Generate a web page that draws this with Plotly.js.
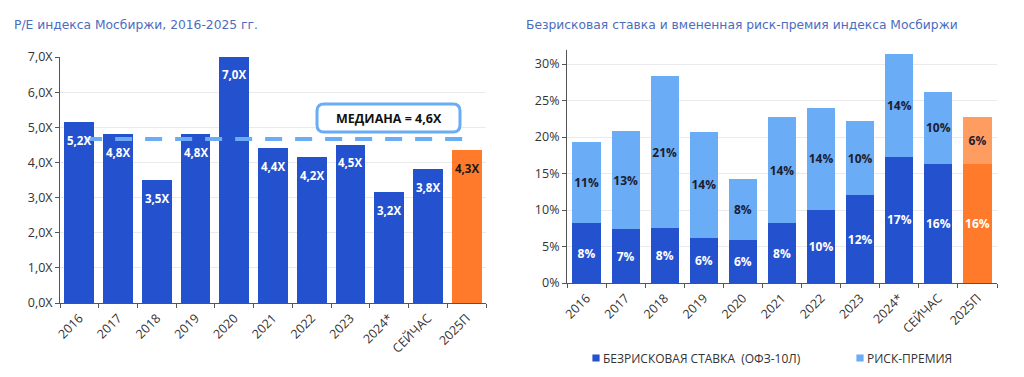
<!DOCTYPE html>
<html><head><meta charset="utf-8">
<script src="https://cdn.plot.ly/plotly-3.0.1.min.js"></script>
<style>html,body{margin:0;padding:0;background:#fff}#chart{width:1024px;height:377px}</style>
</head><body><div id="chart"></div>
<script>
const categories = ['2016','2017','2018','2019','2020','2021','2022','2023','2024*','СЕЙЧАС','2025П'];
const peValues = [5.15, 4.8, 3.5, 4.8, 7.0, 4.4, 4.15, 4.5, 3.15, 3.8, 4.35];
const peLabels = ['5,2X','4,8X','3,5X','4,8X','7,0X','4,4X','4,2X','4,5X','3,2X','3,8X','4,3X'];
const peMedian = 4.67;
const medianLabel = 'МЕДИАНА = 4,6X';
const riskFree = [8.2, 7.4, 7.5, 6.2, 5.9, 8.2, 10.0, 12.0, 17.3, 16.3, 16.3];
const riskFreeLabels = ['8%','7%','8%','6%','6%','8%','10%','12%','17%','16%','16%'];
const riskPremium = [11.1, 13.4, 20.9, 14.5, 8.3, 14.5, 14.0, 10.2, 14.1, 9.9, 6.4];
const riskPremiumLabels = ['11%','13%','21%','14%','8%','14%','14%','10%','14%','10%','6%'];
const peYTicks = [0,1,2,3,4,5,6,7];
const peYTickText = ['0,0X','1,0X','2,0X','3,0X','4,0X','5,0X','6,0X','7,0X'];
const rateYTicks = [0,5,10,15,20,25,30];
const rateYTickText = ['0%','5%','10%','15%','20%','25%','30%'];
const titleLeft = 'P/E индекса Мосбиржи, 2016-2025 гг.';
const titleRight = 'Безрисковая ставка и вмененная риск-премия индекса Мосбиржи';
const legendRiskFree = 'БЕЗРИСКОВАЯ СТАВКА  (ОФЗ-10Л)';
const legendPremium = 'РИСК-ПРЕМИЯ';

const W = 1024, H = 377;
const DARK = '#2452CE', LIGHT = '#6AACF5', ORANGE = '#FF7A2A', LORANGE = '#FF9C60';
const last = categories.length - 1;
const FONT = 'Open Sans, sans-serif';
const WIDE = 'DejaVu Sans, sans-serif';

const peColors = categories.map((c,i) => i === last ? ORANGE : DARK);
const rfColors = categories.map((c,i) => i === last ? ORANGE : DARK);
const rpColors = categories.map((c,i) => i === last ? LORANGE : LIGHT);

const traces = [
  {type:'bar', x:categories, y:peValues, xaxis:'x', yaxis:'y', width:0.77,
   marker:{color:peColors}, showlegend:false, hoverinfo:'skip'},
  {type:'bar', name:legendRiskFree, legend:'legend', x:categories, y:riskFree, xaxis:'x2', yaxis:'y2', width:0.72,
   marker:{color:rfColors}, text:riskFreeLabels.map(t=>'<b>'+t+'</b>'), textposition:'inside',
   insidetextanchor:'middle', constraintext:'none', textangle:0,
   textfont:{color:'#ffffff', size:12, family:FONT}, hoverinfo:'skip'},
  {type:'bar', name:legendPremium, legend:'legend2', x:categories, y:riskPremium, xaxis:'x2', yaxis:'y2', width:0.72,
   marker:{color:rpColors}, text:riskPremiumLabels.map(t=>'<b>'+t+'</b>'), textposition:'inside',
   insidetextanchor:'middle', constraintext:'none', textangle:0,
   textfont:{color:'#1b1d33', size:12, family:FONT}, hoverinfo:'skip'}
];

const px = v => v / W, py = v => 1 - v / H;

function roundedRect(x0, y0, x1, y1, r) {
  const P = (x,y) => px(x) + ',' + py(y);
  return 'M' + P(x0+r,y0) + ' L' + P(x1-r,y0) + ' Q' + P(x1,y0) + ' ' + P(x1,y0+r) +
    ' L' + P(x1,y1-r) + ' Q' + P(x1,y1) + ' ' + P(x1-r,y1) +
    ' L' + P(x0+r,y1) + ' Q' + P(x0,y1) + ' ' + P(x0,y1-r) +
    ' L' + P(x0,y0+r) + ' Q' + P(x0,y0) + ' ' + P(x0+r,y0) + ' Z';
}

const axisCommon = {
  showline:true, linecolor:'#555', linewidth:1, ticks:'outside', tickcolor:'#555', ticklen:4,
  tickfont:{size:12.5, color:'#333', family:FONT}, zeroline:false, fixedrange:true
};

const annotations = [
  {xref:'paper', yref:'paper', x:px(12), y:py(25), xanchor:'left', yanchor:'middle', showarrow:false,
   text:titleLeft, font:{size:12.3, color:'#4C6DBE', family:WIDE}},
  {xref:'paper', yref:'paper', x:px(524), y:py(25), xanchor:'left', yanchor:'middle', showarrow:false,
   text:titleRight, font:{size:12.3, color:'#4C6DBE', family:WIDE}},
  {xref:'paper', yref:'paper', x:px(388.5), y:py(118), xanchor:'center', yanchor:'middle', showarrow:false,
   text:'<b>' + medianLabel + '</b>', font:{size:12.5, color:'#111', family:FONT}}
];
peValues.forEach((v,i) => annotations.push({
  xref:'x', yref:'y', x:i, y:v, yshift:-18, showarrow:false,
  text:'<b>' + peLabels[i] + '</b>', font:{size:11.5, color: i === last ? '#1a1a1a' : '#ffffff', family:FONT}
}));

const legendCommon = {orientation:'h', y:py(358), xanchor:'left', yanchor:'middle',
  font:{size:12, color:'#333', family:FONT}, itemwidth:30, bgcolor:'rgba(0,0,0,0)'};

const layout = {
  width:W, height:H, margin:{l:0,r:0,t:0,b:0}, paper_bgcolor:'#fff', plot_bgcolor:'#fff',
  barmode:'stack', font:{family:FONT, color:'#333'},
  xaxis: Object.assign({}, axisCommon, {domain:[px(60), px(486)], anchor:'y', type:'category',
    range:[-0.5, 10.5], tickangle:-45, tickson:'boundaries', showgrid:false, ticklabelstandoff:2}),
  yaxis: Object.assign({}, axisCommon, {domain:[py(303), py(57)], anchor:'x', range:[0,7],
    tickmode:'array', tickvals:peYTicks, ticktext:peYTickText, showgrid:true, gridcolor:'#e9e9ee', gridwidth:1}),
  xaxis2: Object.assign({}, axisCommon, {domain:[px(567), px(997)], anchor:'y2', type:'category',
    range:[-0.5, 10.5], tickangle:-45, tickson:'boundaries', showgrid:false, ticklabelstandoff:2}),
  yaxis2: Object.assign({}, axisCommon, {domain:[py(283), py(49.5)], anchor:'x2', range:[0,32],
    tickmode:'array', tickvals:rateYTicks, ticktext:rateYTickText, showgrid:true, gridcolor:'#e9e9ee', gridwidth:1}),
  showlegend:true,
  legend: Object.assign({}, legendCommon, {x:px(563)}),
  legend2: Object.assign({}, legendCommon, {x:px(827)}),
  shapes:[
    {type:'line', xref:'x domain', yref:'y', x0:0.059, x1:0.958, y0:peMedian, y1:peMedian, layer:'above',
     line:{color:LIGHT, width:4, dash:'17px,13px'}},
    {type:'path', xref:'paper', yref:'paper', path:roundedRect(317,104,460,132,7), layer:'above',
     fillcolor:'#ffffff', line:{color:LIGHT, width:3}}
  ],
  annotations:annotations
};

Plotly.newPlot('chart', traces, layout, {displayModeBar:false, staticPlot:true}).then(() => {
  document.querySelectorAll('.legendpoints path').forEach(p => {
    p.setAttribute('transform', 'translate(33,0) scale(0.6)');
  });
});
</script>
</body></html>
